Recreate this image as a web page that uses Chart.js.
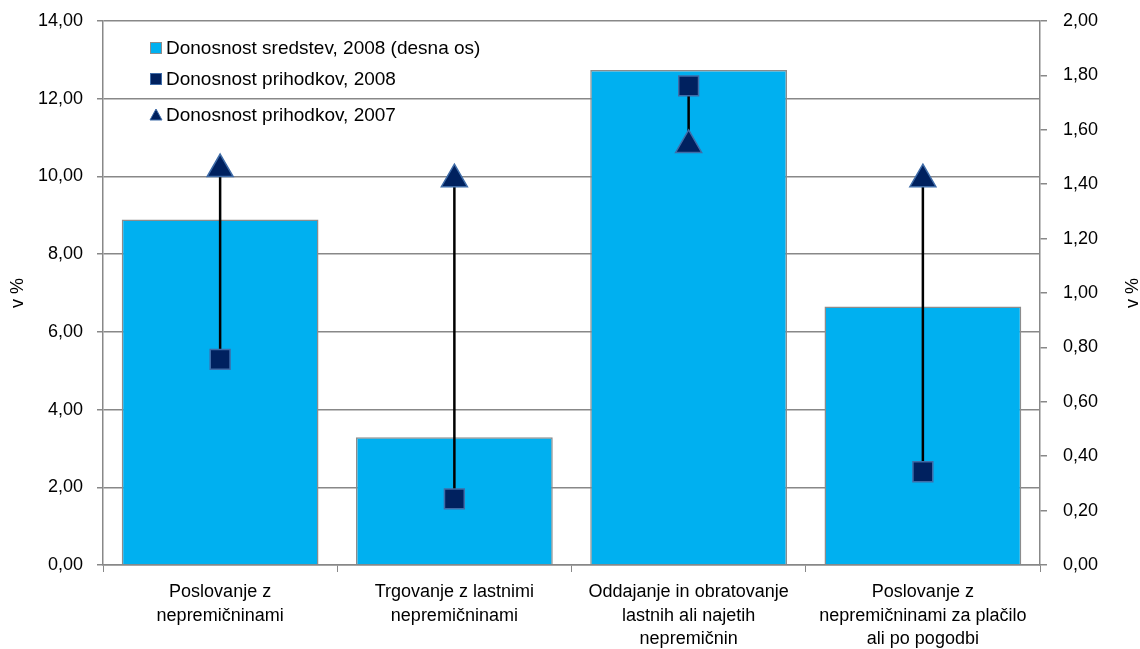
<!DOCTYPE html>
<html>
<head>
<meta charset="utf-8">
<script src="https://cdn.jsdelivr.net/npm/chart.js@4/dist/chart.umd.min.js"></script>
<style>
  html, body { margin: 0; padding: 0; background: #fff; }
  #wrap { width: 1140px; height: 649px; position: relative; }
</style>
</head>
<body>
<div id="wrap"><canvas id="donosnostChart"></canvas></div>
<script>
const categories = [
    ['Poslovanje z', 'nepremičninami'],
    ['Trgovanje z lastnimi', 'nepremičninami'],
    ['Oddajanje in obratovanje', 'lastnih ali najetih', 'nepremičnin'],
    ['Poslovanje z', 'nepremičninami za plačilo', 'ali po pogodbi']
];
const seriesNames = [
    'Donosnost sredstev, 2008 (desna os)',
    'Donosnost prihodkov, 2008',
    'Donosnost prihodkov, 2007'
];
// desna os
const sredstev2008 = [1.27, 0.47, 1.82, 0.95];
// leva os
const prihodkov2008 = [5.29, 1.70, 12.33, 2.40];
const prihodkov2007 = [10.19, 9.93, 10.81, 9.93];
const leftAxis = { min: 0, max: 14, step: 2 };
const rightAxis = { min: 0, max: 2, step: 0.2 };
const axisTitle = 'v %';

const FONT = '"Liberation Sans", Arial, sans-serif';
const GRID = '#888888';

function fmt(v) {
    return Number(v).toFixed(2).replace('.', ',');
}

// fiksna širina osi, brez dodatnega roba zgoraj/spodaj
function fixWidth(w) {
    return s => {
        s.width = w;
        s.paddingTop = 0;
        s.paddingBottom = 0;
    };
}

// navpične črte med točkama 2008 in 2007 (nad stolpci, pod oznakami)
const highLowLines = {
    id: 'highLowLines',
    afterDatasetDraw(chart, args) {
        if (args.index !== 0) return;
        const a = chart.getDatasetMeta(1).data;
        const b = chart.getDatasetMeta(2).data;
        const ctx = chart.ctx;
        ctx.save();
        ctx.strokeStyle = '#000';
        ctx.lineWidth = 2.5;
        for (let i = 0; i < a.length; i++) {
            ctx.beginPath();
            ctx.moveTo(a[i].x, a[i].y);
            ctx.lineTo(b[i].x, b[i].y);
            ctx.stroke();
        }
        ctx.restore();
    }
};

// legenda v zgornjem levem kotu in naslov desne osi
const extras = {
    id: 'extras',
    afterDraw(chart) {
        const ctx = chart.ctx;
        const rows = [48, 79, 115];
        const mx = 156;
        ctx.save();
        chart.data.datasets.forEach((ds, i) => {
            const y = rows[i];
            ctx.fillStyle = ds.backgroundColor;
            ctx.strokeStyle = ds.borderColor;
            ctx.lineWidth = 1;
            if (ds.legendShape === 'triangle') {
                ctx.beginPath();
                ctx.moveTo(mx, y - 6);
                ctx.lineTo(mx + 6, y + 5);
                ctx.lineTo(mx - 6, y + 5);
                ctx.closePath();
                ctx.fill();
                ctx.stroke();
            } else {
                ctx.fillRect(mx - 5.5, y - 5.5, 11, 11);
                ctx.strokeRect(mx - 5.5, y - 5.5, 11, 11);
            }
            ctx.fillStyle = '#000';
            ctx.font = '19px ' + FONT;
            ctx.textBaseline = 'middle';
            ctx.textAlign = 'left';
            ctx.fillText(ds.label, 166, y + 1);
        });

        const area = chart.chartArea;
        ctx.translate(1133, (area.top + area.bottom) / 2);
        ctx.rotate(-Math.PI / 2);
        ctx.textAlign = 'center';
        ctx.textBaseline = 'middle';
        ctx.font = '18px ' + FONT;
        ctx.fillStyle = '#000';
        ctx.fillText(axisTitle, 0, 0);
        ctx.restore();
    }
};

const ctx = document.getElementById('donosnostChart').getContext('2d');

new Chart(ctx, {
    type: 'bar',
    data: {
        labels: categories,
        datasets: [
            {
                type: 'bar',
                label: seriesNames[0],
                data: sredstev2008,
                yAxisID: 'y1',
                backgroundColor: '#00B0F0',
                borderColor: '#8C8C8C',
                borderWidth: 1.5,
                barPercentage: 0.84,
                categoryPercentage: 1,
                order: 3
            },
            {
                type: 'line',
                label: seriesNames[1],
                data: prihodkov2008,
                yAxisID: 'y',
                showLine: false,
                pointStyle: 'rect',
                pointRadius: 14,
                pointHoverRadius: 14,
                backgroundColor: '#00215F',
                borderColor: '#3F6CA8',
                pointBorderWidth: 1.5,
                legendShape: 'rect',
                order: 2
            },
            {
                type: 'line',
                label: seriesNames[2],
                data: prihodkov2007,
                yAxisID: 'y',
                showLine: false,
                pointStyle: 'triangle',
                pointRadius: 15,
                pointHoverRadius: 15,
                backgroundColor: '#00215F',
                borderColor: '#3F6CA8',
                pointBorderWidth: 1.5,
                legendShape: 'triangle',
                order: 1
            }
        ]
    },
    options: {
        responsive: true,
        maintainAspectRatio: false,
        animation: false,
        layout: { padding: { top: 21, left: 0, right: 0, bottom: 0 } },
        plugins: {
            legend: { display: false },
            tooltip: { enabled: false }
        },
        scales: {
            x: {
                afterFit: s => { s.height = 84; },
                grid: {
                    offset: true,
                    drawOnChartArea: false,
                    tickLength: 7,
                    color: GRID
                },
                border: { display: true, color: GRID, width: 1.5 },
                ticks: {
                    color: '#000',
                    font: { family: FONT, size: 18, lineHeight: 1.28 },
                    padding: 9,
                    maxRotation: 0,
                    autoSkip: false
                }
            },
            y: {
                position: 'left',
                min: leftAxis.min,
                max: leftAxis.max,
                afterFit: fixWidth(103),
                grid: { color: GRID, tickLength: 6, lineWidth: 1.5 },
                border: { display: true, color: GRID, width: 1.5 },
                ticks: {
                    stepSize: leftAxis.step,
                    color: '#000',
                    font: { family: FONT, size: 18 },
                    padding: 14,
                    callback: v => fmt(v)
                },
                title: {
                    display: true,
                    text: axisTitle,
                    color: '#000',
                    font: { family: FONT, size: 18 },
                    padding: { top: 7, bottom: 0 }
                }
            },
            y1: {
                position: 'right',
                min: rightAxis.min,
                max: rightAxis.max,
                afterFit: fixWidth(100),
                grid: { drawOnChartArea: false, color: GRID, tickLength: 7, lineWidth: 1.5 },
                border: { display: true, color: GRID, width: 1.5 },
                ticks: {
                    stepSize: rightAxis.step,
                    color: '#000',
                    font: { family: FONT, size: 18 },
                    padding: 16,
                    callback: v => fmt(v)
                }
            }
        }
    },
    plugins: [highLowLines, extras]
});
</script>
</body>
</html>
